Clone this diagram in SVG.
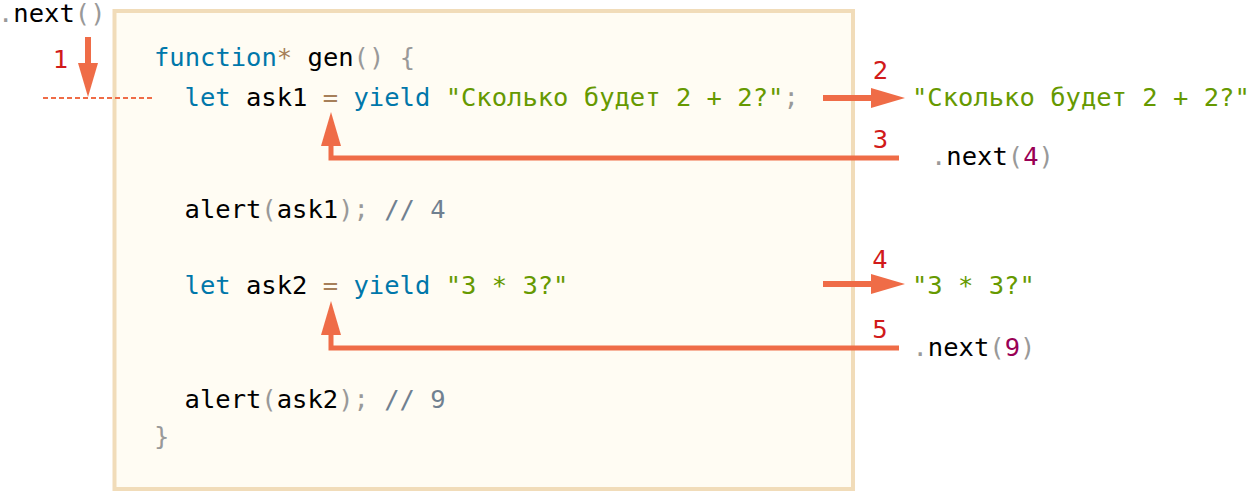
<svg xmlns="http://www.w3.org/2000/svg" width="1249" height="491" viewBox="0 0 1249 491" xml:space="preserve">
<style>
text{font-family:"DejaVu Sans Mono","Liberation Mono",monospace;font-size:25.5px;fill:#000;white-space:pre}
.k{fill:#0077aa}.p{fill:#999999}.o{fill:#a67f59}.s{fill:#669900}.c{fill:#708090}.n{fill:#990055}
.num{fill:#d11a1a;text-anchor:middle}
.box{fill:#fffcf3;stroke:#f1dcb9;stroke-width:4}
.arr{fill:none;stroke:#ef6c47;stroke-width:6;stroke-linejoin:miter}
.arr5{fill:none;stroke:#ef6c47;stroke-width:5;stroke-linejoin:miter}
.dash{fill:none;stroke:#ef6c47;stroke-width:2;stroke-dasharray:5 3}
</style>
<defs>
<marker id="ah" viewBox="0 0 34 20" refX="0" refY="10" markerWidth="34" markerHeight="20" markerUnits="userSpaceOnUse" orient="auto">
<path d="M0,0 L34,10 L0,20 Z" fill="#ef6c47"/>
</marker>
</defs>
<g id="generator-box">
<rect class="box" x="114.5" y="11" width="738.5" height="478"/>
<text x="154" y="66"><tspan class="k">function</tspan><tspan class="o">*</tspan> gen<tspan class="p">() {</tspan></text>
<text x="184.6" y="106"><tspan class="k">let</tspan> ask1 <tspan class="o">=</tspan> <tspan class="k">yield</tspan> <tspan class="s">"Сколько будет 2 + 2?"</tspan><tspan class="p">;</tspan></text>
<text x="184.6" y="218">alert<tspan class="p">(</tspan>ask1<tspan class="p">);</tspan> <tspan class="c">// 4</tspan></text>
<text x="184.6" y="294"><tspan class="k">let</tspan> ask2 <tspan class="o">=</tspan> <tspan class="k">yield</tspan> <tspan class="s">"3 * 3?"</tspan></text>
<text x="184.6" y="408">alert<tspan class="p">(</tspan>ask2<tspan class="p">);</tspan> <tspan class="c">// 9</tspan></text>
<text x="154" y="445" class="p">}</text>
</g>
<g id="call-next-start">
<text x="-2" y="22"><tspan class="p">.</tspan>next<tspan class="p">()</tspan></text>
</g>
<g id="yield-value-1">
<text x="912" y="106" class="s">"Сколько будет 2 + 2?"</text>
</g>
<g id="call-next-4">
<text x="931" y="165"><tspan class="p">.</tspan>next<tspan class="p">(</tspan><tspan class="n">4</tspan><tspan class="p">)</tspan></text>
</g>
<g id="yield-value-2">
<text x="912" y="294" class="s">"3 * 3?"</text>
</g>
<g id="call-next-9">
<text x="912.5" y="356"><tspan class="p">.</tspan>next<tspan class="p">(</tspan><tspan class="n">9</tspan><tspan class="p">)</tspan></text>
</g>
<g id="connectors">
<path class="dash" d="M43,98 H153"/>
<path class="arr" d="M88,37 V63" marker-end="url(#ah)"/>
<path class="arr" d="M823,98 H871" marker-end="url(#ah)"/>
<path class="arr5" d="M899,158 H331 V146" marker-end="url(#ah)"/>
<path class="arr" d="M823,284 H871" marker-end="url(#ah)"/>
<path class="arr5" d="M899,348 H331 V335" marker-end="url(#ah)"/>
</g>
<g id="step-labels">
<text class="num" x="60.5" y="68">1</text>
<text class="num" x="880.5" y="79">2</text>
<text class="num" x="880.5" y="148">3</text>
<text class="num" x="880" y="268">4</text>
<text class="num" x="880" y="338">5</text>
</g>
</svg>
